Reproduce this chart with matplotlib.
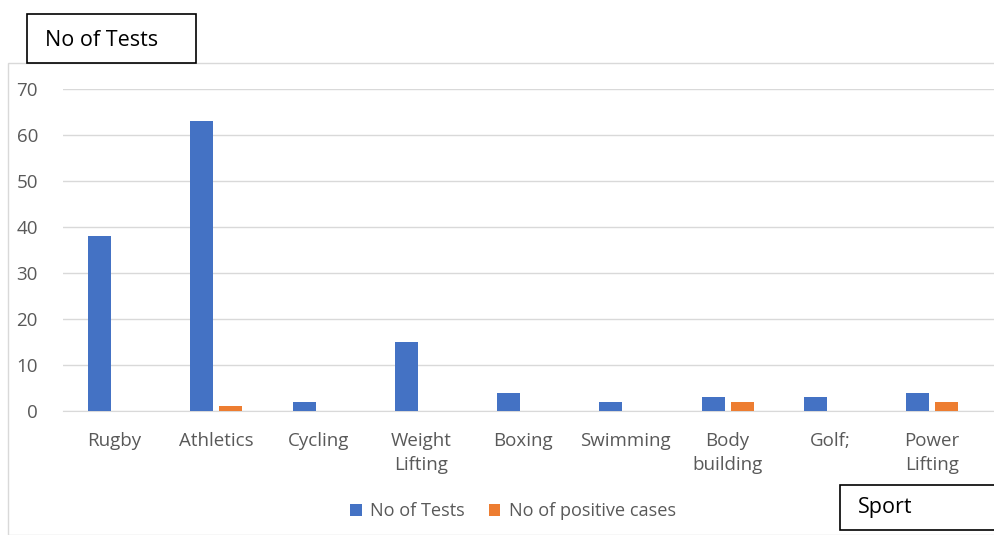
import matplotlib
matplotlib.use("Agg")
import matplotlib.pyplot as plt
import numpy as np
from matplotlib.patches import Rectangle

categories = ["Rugby", "Athletics", "Cycling", "Weight\nLifting", "Boxing",
              "Swimming", "Body\nbuilding", "Golf;", "Power\nLifting"]
tests = [38, 63, 2, 15, 4, 2, 3, 3, 4]
positives = [0, 1, 0, 0, 0, 0, 2, 0, 2]
yticks = [0, 10, 20, 30, 40, 50, 60, 70]

plt.rcParams['font.family'] = ['Open Sans', 'DejaVu Sans']

W, H = 995, 535
fig = plt.figure(figsize=(W / 100, H / 100), dpi=100)

def fx(px):
    return px / W

def fy(py):
    return 1 - py / H

# outer chart border
fig.patches.append(Rectangle((fx(8), fy(535)), fx(995 - 8), fy(63) - fy(535),
                             transform=fig.transFigure, fill=False,
                             edgecolor="#D9D9D9", linewidth=1))

cat_w = 102.25
ax = fig.add_axes([fx(63), fy(411), fx(995) - fx(63), fy(89) - fy(411)])
x = np.arange(len(categories))
bw = 0.225
off = 0.142
ax.bar(x - off, tests, width=bw, color="#4472C4", label="No of Tests", zorder=3)
ax.bar(x + off, positives, width=bw, color="#ED7D31", label="No of positive cases", zorder=3)

ax.set_xlim(-0.5, -0.5 + (995 - 63) / cat_w)
ax.set_ylim(0, 70)
ax.set_yticks(yticks)
ax.grid(axis="y", color="#D9D9D9", linewidth=1, zorder=0)
for s in ["top", "right", "left"]:
    ax.spines[s].set_visible(False)
ax.spines["bottom"].set_color("#D9D9D9")
ax.tick_params(axis="both", length=0, colors="#595959", labelsize=13.5)
ax.tick_params(axis="y", pad=18)
ax.tick_params(axis="x", pad=15)
ax.set_xticks(x)
ax.set_xticklabels(categories, linespacing=1.45)

leg = fig.legend(loc="center", bbox_to_anchor=(fx(513), fy(511)), ncol=2,
                 frameon=False, fontsize=13.1, handlelength=0.65, handleheight=0.65,
                 columnspacing=1.3, handletextpad=0.45)
for t in leg.get_texts():
    t.set_color("#595959")

# title box
fig.patches.append(Rectangle((fx(27), fy(63)), fx(196 - 27), fy(14) - fy(63),
                             transform=fig.transFigure, fill=True, facecolor="white",
                             edgecolor="black", linewidth=1.2, zorder=5))
fig.text(fx(45), fy(40), "No of Tests", fontsize=15.5, color="black",
         va="center", ha="left", zorder=6)

# Sport box
fig.patches.append(Rectangle((fx(840), fy(530)), fx(998 - 840), fy(485) - fy(530),
                             transform=fig.transFigure, fill=True, facecolor="white",
                             edgecolor="black", linewidth=1.2, zorder=5))
fig.text(fx(858), fy(507), "Sport", fontsize=15.5, color="black",
         va="center", ha="left", zorder=6)

fig.savefig("out.png", dpi=100)
